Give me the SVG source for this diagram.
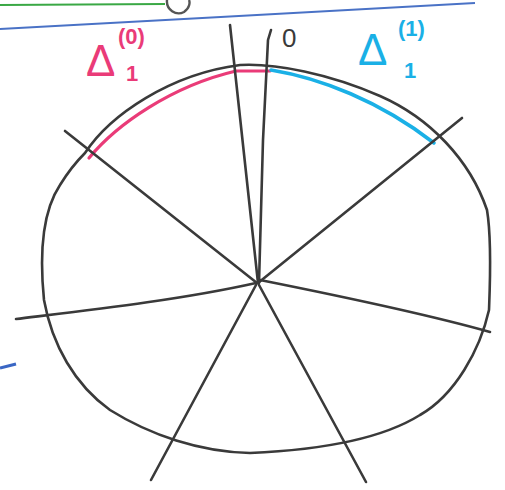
<svg xmlns="http://www.w3.org/2000/svg" width="505" height="490" viewBox="0 0 505 490">
<style>
.ink{fill:none;stroke:#3a3a3a;stroke-width:2.6;stroke-linecap:round;stroke-linejoin:round}
.pk{fill:none;stroke:#ea3b78;stroke-width:3.2;stroke-linecap:round}
.cy{fill:none;stroke:#1ab0e6;stroke-width:3.6;stroke-linecap:round}
.lp{font-family:"Liberation Sans",Arial,sans-serif;fill:#ea3b78}
.lc{font-family:"Liberation Sans",Arial,sans-serif;fill:#1ab0e6}
.lk{font-family:"Liberation Sans",Arial,sans-serif;fill:#3a3a3a}
</style>
<rect width="505" height="490" fill="#fff"/>
<g id="margins">
<path d="M0 5 L165 4" stroke="#3aa845" stroke-width="2" fill="none"/>
<path d="M167 0 C166 10 176 16 184 12 C190 8 190 2 189 0" stroke="#555" stroke-width="2.4" fill="none"/>
<path d="M0 29 C150 22 330 10 475 3" stroke="#4a72c6" stroke-width="2" fill="none"/>
<path d="M0 368 L16 364" stroke="#3a66c4" stroke-width="3" fill="none"/>
</g>
<g id="circle">
<path class="ink" d="M85 153 C110 115 170 74 240 65 C275 63 330 74 380 96 C430 118 470 160 487 210 C492 240 490 285 489 310 C480 350 455 395 420 415 C380 440 320 450 250 453 C200 452 150 435 110 410 C75 385 52 345 44 300 C40 260 40 215 60 185 C68 172 76 162 85 153 Z"/>
</g>
<g id="arcs">
<path class="pk" d="M89 158 C117 124 172 86 236 71 L270 71"/>
<path class="cy" d="M271 70 C320 78 380 101 434 143"/>
</g>
<g id="rays" class="ink">
<path d="M230 25 L258 283"/>
<path d="M271 30 L268 40 L263 140 L259 283"/>
<path d="M65 131 L257 283"/>
<path d="M462 118 L258 283"/>
<path d="M16 319 C90 310 180 300 256 283"/>
<path d="M490 332 C430 315 360 300 260 280"/>
<path d="M151 480 L256 285"/>
<path d="M366 482 L259 285"/>
</g>
<g id="labels">
<text class="lp" x="86" y="76" font-size="44">Δ</text>
<text class="lp" x="126" y="81" font-size="22" font-weight="bold">1</text>
<text class="lp" x="118" y="44" font-size="22" font-weight="bold">(0)</text>
<text class="lc" x="358" y="65" font-size="44">Δ</text>
<text class="lc" x="404" y="78" font-size="22" font-weight="bold">1</text>
<text class="lc" x="398" y="36" font-size="22" font-weight="bold">(1)</text>
<text class="lk" x="282" y="47" font-size="26">0</text>
</g>
</svg>
